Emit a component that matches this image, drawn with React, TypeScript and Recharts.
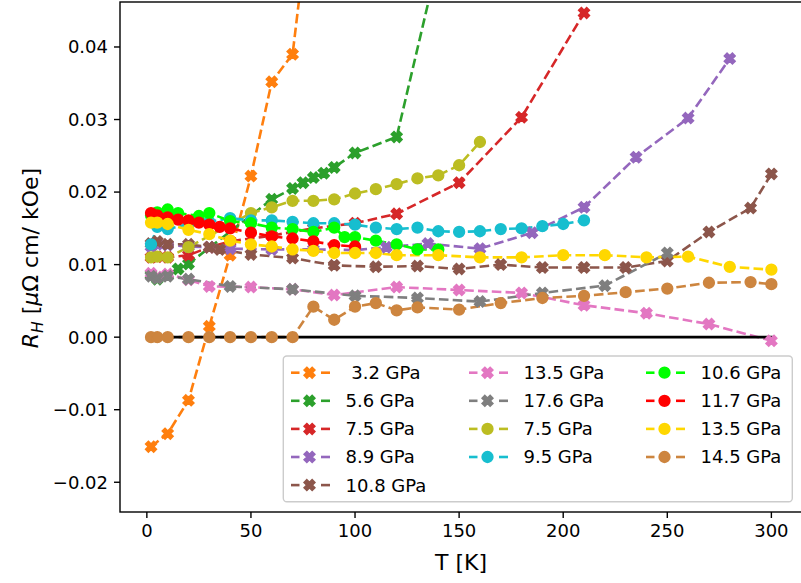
import React from "react";
import { LineChart, Line, XAxis, YAxis } from "recharts";

// temperature [K], Hall coefficient R_H [µΩ cm / kOe]
const p3_2X: [number, number][] = [[2, -0.0151], [10, -0.0133], [20, -0.0087], [30, 0.0015], [40, 0.0113], [50, 0.0222], [60, 0.0352], [70, 0.039], [80, 0.063]];
const p5_6X: [number, number][] = [[2, 0.0086], [5, 0.008], [10, 0.0085], [15, 0.0094], [20, 0.0101], [60, 0.019], [70, 0.0205], [75, 0.0213], [80, 0.022], [85, 0.0226], [90, 0.0234], [100, 0.0254], [120, 0.0276], [140, 0.052]];
const p7_5X: [number, number][] = [[2, 0.011], [5, 0.0111], [10, 0.011], [20, 0.0113], [30, 0.0124], [40, 0.0132], [60, 0.014], [80, 0.015], [100, 0.0157], [120, 0.017], [150, 0.0213], [180, 0.0303], [210, 0.0447]];
const p8_9X: [number, number][] = [[2, 0.0125], [5, 0.0128], [10, 0.0127], [20, 0.0125], [30, 0.0124], [40, 0.0122], [60, 0.0121], [80, 0.0121], [100, 0.012], [115, 0.0124], [135, 0.0129], [160, 0.0122], [185, 0.0144], [210, 0.0179], [235, 0.0248], [260, 0.0302], [280, 0.0384]];
const p10_8X: [number, number][] = [[2, 0.0129], [5, 0.0132], [10, 0.0128], [20, 0.0128], [30, 0.0124], [35, 0.0121], [50, 0.0114], [70, 0.0109], [90, 0.0099], [110, 0.0097], [130, 0.0098], [150, 0.0094], [170, 0.01], [190, 0.0096], [210, 0.0096], [230, 0.0096], [250, 0.0105], [270, 0.0145], [290, 0.0178], [300, 0.0225]];
const p13_5X: [number, number][] = [[2, 0.0088], [5, 0.0083], [10, 0.0087], [20, 0.0079], [30, 0.007], [50, 0.0069], [70, 0.0066], [90, 0.0058], [120, 0.0069], [150, 0.0065], [180, 0.0061], [210, 0.0044], [240, 0.0033], [270, 0.0018], [300, -0.0005]];
const p17_6X: [number, number][] = [[2, 0.0084], [5, 0.0081], [10, 0.0084], [20, 0.008], [40, 0.007], [70, 0.0066], [100, 0.0057], [130, 0.0054], [160, 0.0049], [190, 0.0061], [220, 0.0071], [250, 0.0116]];
const p7_5O: [number, number][] = [[2, 0.011], [5, 0.0111], [10, 0.011], [20, 0.0124], [50, 0.0171], [60, 0.0179], [70, 0.0188], [80, 0.0188], [90, 0.019], [100, 0.0198], [110, 0.0204], [120, 0.0211], [130, 0.0219], [140, 0.0223], [150, 0.0237], [160, 0.0269]];
const p9_5O: [number, number][] = [[2, 0.0128], [5, 0.0152], [10, 0.0149], [20, 0.0156], [30, 0.0159], [40, 0.0164], [50, 0.0161], [60, 0.0161], [70, 0.0159], [80, 0.0157], [90, 0.0157], [100, 0.0155], [110, 0.0151], [120, 0.0149], [130, 0.0151], [140, 0.0146], [150, 0.0145], [160, 0.0146], [170, 0.0149], [180, 0.015], [190, 0.0153], [200, 0.0156], [210, 0.0161]];
const p10_6O: [number, number][] = [[2, 0.0168], [5, 0.0172], [10, 0.0176], [15, 0.0171], [25, 0.0167], [30, 0.0171], [40, 0.016], [50, 0.0157], [60, 0.0151], [70, 0.0149], [80, 0.0145], [90, 0.0151], [95, 0.0138], [100, 0.0138], [110, 0.0133], [120, 0.0128], [130, 0.0121], [140, 0.0121]];
const p11_7O: [number, number][] = [[2, 0.0171], [5, 0.0168], [10, 0.0165], [15, 0.0162], [20, 0.0161], [25, 0.0158], [30, 0.0155], [35, 0.0152], [40, 0.015], [50, 0.0144], [60, 0.0139], [70, 0.0136], [80, 0.0132], [90, 0.0127], [100, 0.0125]];
const p13_5O: [number, number][] = [[2, 0.0158], [5, 0.0158], [10, 0.0156], [20, 0.0148], [30, 0.0142], [40, 0.0133], [50, 0.0128], [60, 0.0125], [70, 0.0121], [80, 0.0119], [90, 0.0116], [100, 0.0116], [110, 0.0116], [120, 0.0113], [140, 0.0113], [160, 0.011], [180, 0.011], [200, 0.0113], [220, 0.0113], [240, 0.011], [260, 0.0111], [280, 0.0097], [300, 0.0093]];
const p14_5O: [number, number][] = [[2, 0], [5, 0], [10, 0], [20, 0], [30, 0], [40, 0], [50, 0], [60, 0], [70, 0], [80, 0.0042], [90, 0.0024], [100, 0.0042], [110, 0.0047], [120, 0.0037], [130, 0.0041], [150, 0.0038], [170, 0.0047], [190, 0.0054], [210, 0.0057], [230, 0.0062], [250, 0.0067], [270, 0.0075], [290, 0.0076], [300, 0.0073]];
const zeroLine: [number, number][] = [[2, 0], [300, 0]];

const xTicks = [0, 50, 100, 150, 200, 250, 300];
const yTicks = [-0.02, -0.01, 0, 0.01, 0.02, 0.03, 0.04];

type Series = { label: string; color: string; marker: "x" | "o"; pts: [number, number][] };
const series: Series[] = [
  { label: " 3.2 GPa", color: "#ff7f0e", marker: "x", pts: p3_2X },
  { label: "5.6 GPa", color: "#2ca02c", marker: "x", pts: p5_6X },
  { label: "7.5 GPa", color: "#d62728", marker: "x", pts: p7_5X },
  { label: "8.9 GPa", color: "#9467bd", marker: "x", pts: p8_9X },
  { label: "10.8 GPa", color: "#8c564b", marker: "x", pts: p10_8X },
  { label: "13.5 GPa", color: "#e377c2", marker: "x", pts: p13_5X },
  { label: "17.6 GPa", color: "#7f7f7f", marker: "x", pts: p17_6X },
  { label: "7.5 GPa", color: "#bcbd22", marker: "o", pts: p7_5O },
  { label: "9.5 GPa", color: "#17becf", marker: "o", pts: p9_5O },
  { label: "10.6 GPa", color: "#00ff00", marker: "o", pts: p10_6O },
  { label: "11.7 GPa", color: "#ff0000", marker: "o", pts: p11_7O },
  { label: "13.5 GPa", color: "#ffd700", marker: "o", pts: p13_5O },
  { label: "14.5 GPa", color: "#cd853f", marker: "o", pts: p14_5O },
];

const FONT = "DejaVu Sans";
const FS = 18;
const DASH = "9.6 4.2";
const X_PTS = [[-1, -2], [0, -1], [1, -2], [2, -1], [1, 0], [2, 1], [1, 2], [0, 1], [-1, 2], [-2, 1], [-1, 0], [-2, -1]];

function xPath(cx: number, cy: number, s = 10.6) {
  return X_PTS.map(([a, b], i) => `${i ? "L" : "M"}${cx + (a * s) / 4},${cy + (b * s) / 4}`).join("") + "Z";
}

function Marker({ cx, cy, color, marker }: { cx: number; cy: number; color: string; marker: "x" | "o" }) {
  if (marker === "o") return <circle cx={cx} cy={cy} r={5.3} fill={color} stroke={color} strokeWidth={1.7} />;
  return <path d={xPath(cx, cy)} fill={color} stroke={color} strokeWidth={1.7} strokeLinejoin="miter" />;
}

const makeDot = (color: string, marker: "x" | "o") => (props: any) => {
  const { cx, cy, index } = props;
  if (cx == null || cy == null) return <g key={`e-${index}`} />;
  return (
    <g key={`d-${index}`}>
      <Marker cx={cx} cy={cy} color={color} marker={marker} />
    </g>
  );
};

const fmtY = (v: number) => v.toFixed(2).replace("-", "\u2212");

// legend layout (matplotlib-like, 3 columns)
const legCols = [291, 469, 646];
const legRows = (i: number) => 372.7 + 28.1 * i;

export default function App() {
  const legendItems = series.map((s, i) => {
    const col = i < 5 ? 0 : i < 9 ? 1 : 2;
    const row = i < 5 ? i : i < 9 ? i - 5 : i - 9;
    return { ...s, x0: legCols[col], y: legRows(row) };
  });

  return (
    <div style={{ position: "absolute", left: 0, top: 0, width: 801, height: 583, overflow: "hidden", background: "#fff", fontFamily: FONT }}>
      <LineChart width={806} height={583} margin={{ top: 2, right: 3.6, bottom: 0, left: 0 }}>
        <XAxis
          type="number"
          dataKey="T"
          domain={[-12.9, 314.9]}
          allowDataOverflow
          ticks={xTicks}
          height={71}
          axisLine={false}
          tickSize={6}
          tickMargin={6}
          tickLine={{ stroke: "#000", strokeWidth: 1.4 }}
          tick={{ fontSize: FS, fill: "#000", fontFamily: FONT }}
          interval={0}
        />
        <YAxis
          type="number"
          dataKey="R"
          domain={[-0.0241, 0.0462]}
          allowDataOverflow
          ticks={yTicks}
          tickFormatter={fmtY}
          width={120}
          axisLine={false}
          tickSize={6}
          tickMargin={6}
          tickLine={{ stroke: "#000", strokeWidth: 1.4 }}
          tick={{ fontSize: FS, fill: "#000", fontFamily: FONT }}
          interval={0}
        />
        {series.map((s, i) => (
          <Line
            key={i}
            name={`${s.label}-${i}`}
            data={s.pts.map(([T, R]) => ({ T, R }))}
            dataKey="R"
            type="linear"
            stroke={s.color}
            strokeWidth={2.6}
            strokeDasharray={DASH}
            dot={makeDot(s.color, s.marker)}
            activeDot={false}
            isAnimationActive={false}
          />
        ))}
        <Line
          name="zero"
          data={zeroLine.map(([T, R]) => ({ T, R }))}
          dataKey="R"
          type="linear"
          stroke="#000"
          strokeWidth={2.6}
          strokeLinecap="square"
          dot={false}
          activeDot={false}
          isAnimationActive={false}
        />
      </LineChart>
      <svg width={801} height={583} style={{ position: "absolute", left: 0, top: 0, pointerEvents: "none" }}>
        <rect x={120} y={2} width={682.4} height={510} fill="none" stroke="#000" strokeWidth={1.4} />
        <text transform="translate(38,258) rotate(-90)" textAnchor="middle" fontSize={22} fontFamily={FONT} fill="#000">
          <tspan fontStyle="italic">R</tspan>
          <tspan fontStyle="italic" fontSize={15.4} dy={4.5}>H</tspan>
          <tspan dy={-4.5}> [</tspan>
          <tspan fontStyle="italic">μ</tspan>
          <tspan>Ω cm/ kOe]</tspan>
        </text>
        <text x={461} y={570} textAnchor="middle" fontSize={22} fontFamily={FONT} fill="#000">T [K]</text>
        <rect x={283.3} y={356} width={509} height={145.7} rx={3.5} fill="#fff" fillOpacity={0.8} stroke="#cccccc" strokeWidth={1.4} />
        {legendItems.map((it, i) => (
          <g key={i}>
            <line x1={it.x0} x2={it.x0 + 8.5} y1={it.y} y2={it.y} stroke={it.color} strokeWidth={2.6} />
            <line x1={it.x0 + 30} x2={it.x0 + 39} y1={it.y} y2={it.y} stroke={it.color} strokeWidth={2.6} />
            <Marker cx={it.x0 + 18.5} cy={it.y} color={it.color} marker={it.marker} />
            <text x={it.x0 + 54.5} y={it.y + 6.4} fontSize={FS} fontFamily={FONT} fill="#000" style={{ whiteSpace: "pre" }}>
              {it.label}
            </text>
          </g>
        ))}
      </svg>
    </div>
  );
}
